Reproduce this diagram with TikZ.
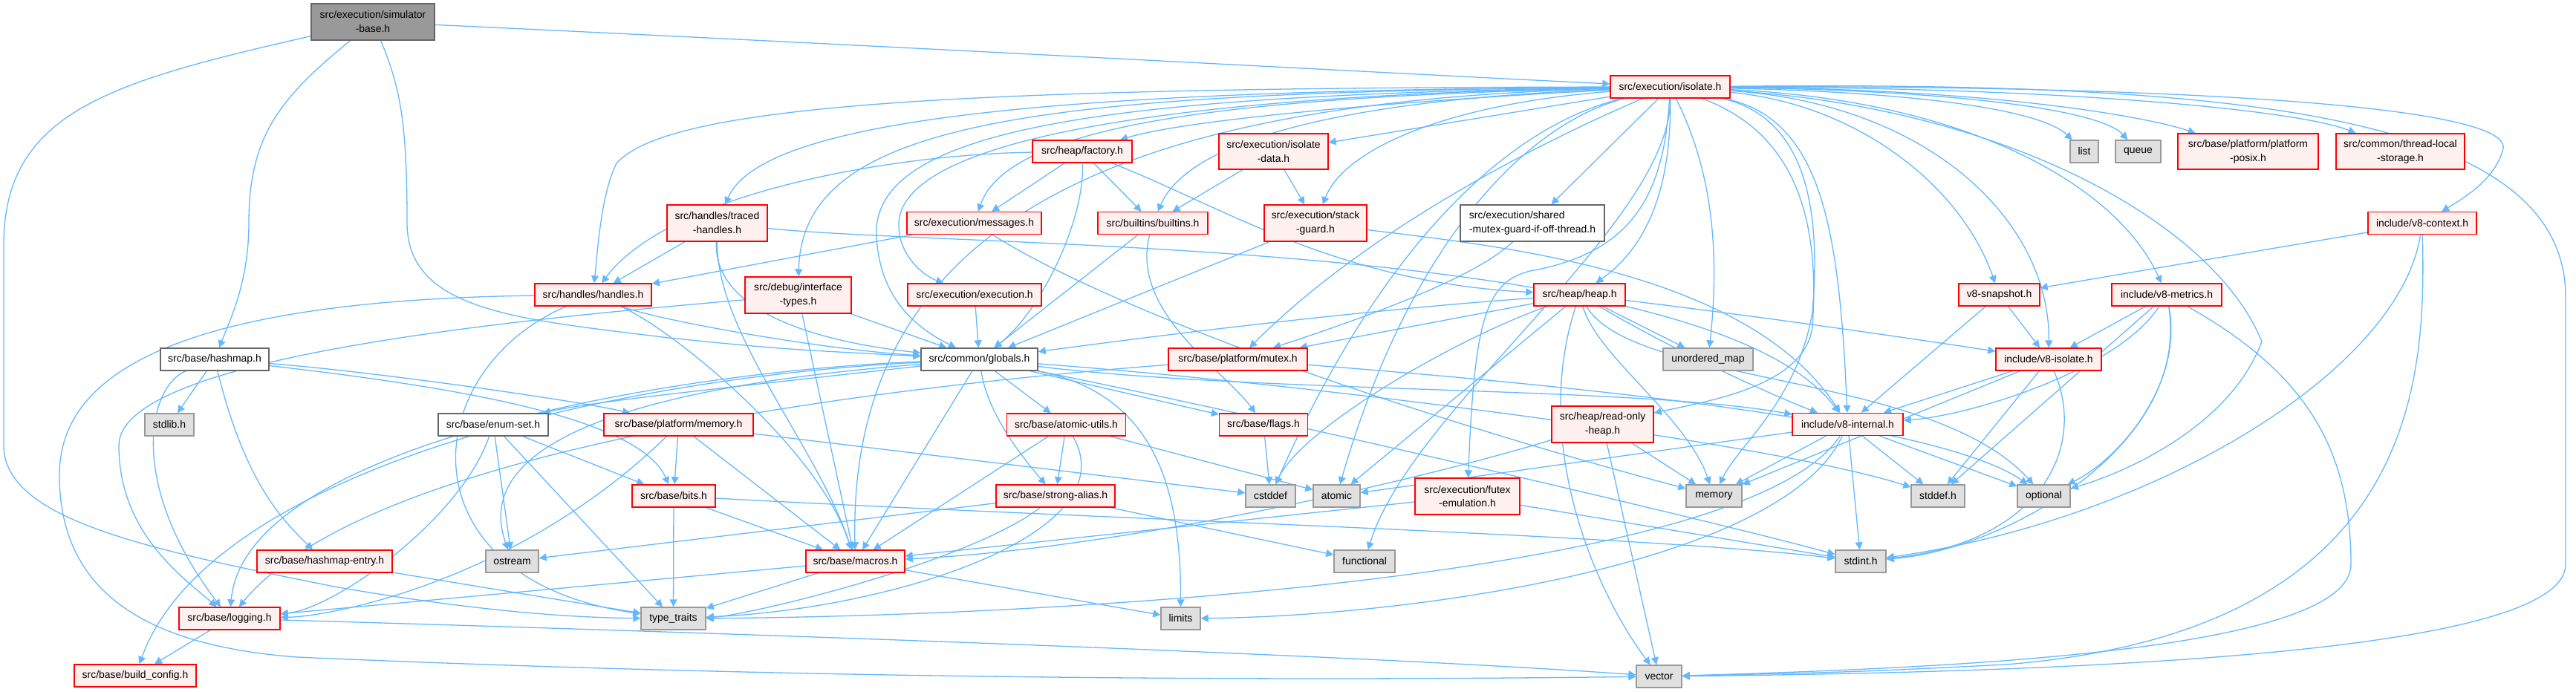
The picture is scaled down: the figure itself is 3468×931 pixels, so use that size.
\documentclass[tikz,border=0pt]{standalone}
\usepackage{fontspec}
\setmainfont{Liberation Sans}
\usetikzlibrary{arrows.meta}
\definecolor{edgeblue}{HTML}{63B8FF}
\definecolor{pinkfill}{HTML}{FFF0F0}
\definecolor{sysfill}{HTML}{E0E0E0}
\definecolor{sysline}{HTML}{999999}
\definecolor{darkline}{HTML}{666666}
\definecolor{rootfill}{HTML}{999999}
\pgfdeclarelayer{bg}
\pgfsetlayers{bg,main}

\begin{document}
\begin{tikzpicture}[
    x=0.3mm, y=-0.3mm,
    nbox/.style  = {draw, inner sep=0pt, line width=1.2pt, align=center,
                    font=\fontsize{11.9}{16.2}\selectfont},
    trunc/.style = {nbox, draw=red, fill=pinkfill},
    sys/.style   = {nbox, draw=sysline, fill=sysfill},
    hdr/.style   = {nbox, draw=darkline, fill=white},
    root/.style  = {nbox, draw=darkline, fill=rootfill},
    sz/.style 2 args = {minimum width=#1*0.3mm, minimum height=#2*0.3mm},
    incl/.style  = {draw=edgeblue, line width=1.1pt,
                    -{Triangle[length=3mm,width=3mm]}},
  ]
  \useasboundingbox (0,0) rectangle (3468,931);
  % top rows
  \node[root, sz={166}{49}]  (sim)      at (502,29.5)    {src/execution/simulator\\-base.h};
  \node[trunc, sz={161}{30}] (iso)      at (2248.5,117)  {src/execution/isolate.h};
  \node[trunc, sz={134}{30}] (fac)      at (1457,204)    {src/heap/factory.h};
  \node[trunc, sz={147}{48}] (isodata)  at (1714.5,204)  {src/execution/isolate\\-data.h};
  \node[sys, sz={38}{30}]    (list)     at (2806,204)    {list};
  \node[sys, sz={61}{30}]    (queue)    at (2878.5,204)  {queue};
  \node[trunc, sz={189}{48}] (posix)    at (3026.5,204)  {src/base/platform/platform\\-posix.h};
  \node[trunc, sz={173}{48}] (tls)      at (3231.5,204)  {src/common/thread-local\\-storage.h};
  \node[trunc, sz={135}{49}] (traced)   at (965.5,300.5) {src/handles/traced\\-handles.h};
  \node[trunc, sz={181}{30}] (msg)      at (1311.5,300.5) {src/execution/messages.h};
  \node[trunc, sz={148}{30}] (builtins) at (1552,300.5)  {src/builtins/builtins.h};
  \node[trunc, sz={138}{49}] (stack)    at (1771,300.5)  {src/execution/stack\\-guard.h};
  \node[hdr, sz={194}{49}, align=left] (shared) at (2063,300.5) {src/execution/shared\\-mutex-guard-if-off-thread.h};
  \node[trunc, sz={146}{30}] (ctx)      at (3261,300.5)  {include/v8-context.h};
  \node[trunc, sz={157}{30}] (handles)  at (798.5,397)   {src/handles/handles.h};
  \node[trunc, sz={143}{49}] (iface)    at (1074.5,397.5) {src/debug/interface\\-types.h};
  \node[trunc, sz={180}{30}] (exec)     at (1312,397)    {src/execution/execution.h};
  \node[trunc, sz={123}{30}] (heap)     at (2126.5,397)  {src/heap/heap.h};
  \node[trunc, sz={109}{30}] (snap)     at (2691.5,397)  {v8-snapshot.h};
  \node[trunc, sz={148}{30}] (metrics)  at (2917,397)    {include/v8-metrics.h};
  % middle rows
  \node[hdr, sz={146}{30}]   (hashmap)  at (289,484)     {src/base/hashmap.h};
  \node[hdr, sz={157}{30}]   (globals)  at (1318.5,484)  {src/common/globals.h};
  \node[trunc, sz={187}{30}] (mutex)    at (1666.5,484)  {src/base/platform/mutex.h};
  \node[sys, sz={121}{30}]   (umap)     at (2299.5,484)  {unordered\_map};
  \node[trunc, sz={142}{30}] (v8iso)    at (2758,484)    {include/v8-isolate.h};
  \node[sys, sz={66}{30}]    (stdlib)   at (228,572)     {stdlib.h};
  \node[hdr, sz={148}{30}]   (enumset)  at (664,572)     {src/base/enum-set.h};
  \node[trunc, sz={201}{30}] (memoryh)  at (913.5,572)   {src/base/platform/memory.h};
  \node[trunc, sz={160}{30}] (atomicu)  at (1435.5,572)  {src/base/atomic-utils.h};
  \node[trunc, sz={119}{30}] (flags)    at (1701,572)    {src/base/flags.h};
  \node[trunc, sz={137}{49}] (rohea)    at (2157.5,571.5) {src/heap/read-only\\-heap.h};
  \node[trunc, sz={149}{30}] (v8int)    at (2487.5,571.5) {include/v8-internal.h};
  \node[trunc, sz={112}{30}] (bits)     at (907,668)     {src/base/bits.h};
  \node[trunc, sz={160}{30}] (strong)   at (1421,668)    {src/base/strong-alias.h};
  \node[sys, sz={67}{30}]    (cstddef)  at (1710.5,668)  {cstddef};
  \node[sys, sz={63}{30}]    (atomic)   at (1799.5,668)  {atomic};
  \node[trunc, sz={141}{49}] (futex)    at (1975.5,668.5) {src/execution/futex\\-emulation.h};
  \node[sys, sz={75}{30}]    (memory)   at (2307.5,668)  {memory};
  \node[sys, sz={72}{30}]    (stddef)   at (2609,668)    {stddef.h};
  \node[sys, sz={71}{30}]    (optional) at (2751.5,668)  {optional};
  % bottom rows
  \node[trunc, sz={182}{30}] (hmentry)  at (437,756)     {src/base/hashmap-entry.h};
  \node[sys, sz={71}{30}]    (ostream)  at (689.5,756)   {ostream};
  \node[trunc, sz={133}{30}] (macros)   at (1151.5,756)  {src/base/macros.h};
  \node[sys, sz={82}{30}]    (functional) at (1837,756)  {functional};
  \node[sys, sz={68}{30}]    (stdint)   at (2505,756)    {stdint.h};
  \node[trunc, sz={136}{30}] (logging)  at (309,833)     {src/base/logging.h};
  \node[sys, sz={87}{30}]    (ttraits)  at (906.5,833)   {type\_traits};
  \node[sys, sz={53}{30}]    (limits)   at (1589.5,833)  {limits};
  \node[trunc, sz={164}{30}] (buildcfg) at (182,910)     {src/base/build\_config.h};
  \node[sys, sz={61}{30}]    (vector)   at (2233.5,911)  {vector};

  \begin{pgfonlayer}{bg}
  % simulator-base.h
  \draw[incl] (sim) .. controls (1200,62) and (1800,95) .. (iso);
  \draw[incl] (sim) .. controls (380,130) and (335,180) .. (335,300) .. controls (335,380) and (310,430) .. (hashmap);
  \draw[incl] (sim) .. controls (540,120) and (548,170) .. (548,300) .. controls (548,420) and (700,430) .. (900,455) .. controls (1050,470) .. (globals);
  \draw[incl] (sim) .. controls (150,110) and (5,150) .. (5,330) -- (5,600) .. controls (5,700) and (200,740) .. (450,790) .. controls (650,825) and (780,832) .. (ttraits);
  % isolate.h, to the left
  \draw[incl] (iso) .. controls (1300,118) and (900,140) .. (830,220) .. controls (810,260) and (805,330) .. (handles);
  \draw[incl] (iso) .. controls (1500,122) and (1030,150) .. (traced);
  \draw[incl] (iso) .. controls (1400,125) and (1080,160) .. (iface);
  \draw[incl] (iso) .. controls (1500,128) and (1170,170) .. (1180,320) .. controls (1185,400) and (1230,440) .. (globals);
  \draw[incl] (iso) .. controls (1500,130) and (1215,200) .. (1210,300) .. controls (1208,340) and (1240,370) .. (exec);
  \draw[incl] (iso) .. controls (1600,135) and (1140,250) .. (macros);
  \draw[incl] (iso) .. controls (1700,130) and (1360,160) .. (msg);
  \draw[incl] (iso) .. controls (1900,135) and (1600,160) .. (fac);
  \draw[incl] (iso) .. controls (1800,135) and (1600,190) .. (builtins);
  \draw[incl] (iso) -- (isodata);
  \draw[incl] (iso) .. controls (1950,140) and (1810,200) .. (stack);
  \draw[incl] (iso) -- (shared);
  \draw[incl] (iso) .. controls (2100,180) and (1850,300) .. (mutex);
  \draw[incl] (iso) .. controls (2030,170) and (1860,330) .. (cstddef);
  \draw[incl] (iso) .. controls (2060,165) and (1900,320) .. (atomic);
  \draw[incl] (iso) .. controls (2240,260) and (2200,340) .. (2060,365) .. controls (2000,380) and (1985,430) .. (futex);
  \draw[incl] (iso) .. controls (2250,300) and (1900,550) .. (functional);
  % isolate.h, downwards and to the right
  \draw[incl] (iso) .. controls (2250,250) and (2220,330) .. (heap);
  \draw[incl] (iso) .. controls (2290,200) and (2320,300) .. (umap);
  \draw[incl] (iso) .. controls (2420,180) and (2450,300) .. (2440,440) .. controls (2430,520) and (2300,540) .. (rohea);
  \draw[incl] (iso) .. controls (2440,160) and (2450,300) .. (2440,420) .. controls (2420,540) and (2340,600) .. (memory);
  \draw[incl] (iso) .. controls (2450,160) and (2476,300) .. (v8int);
  \draw[incl] (iso) .. controls (2500,140) and (2640,250) .. (snap);
  \draw[incl] (iso) .. controls (2600,140) and (2760,300) .. (v8iso);
  \draw[incl] (iso) .. controls (2650,135) and (2850,250) .. (metrics);
  \draw[incl] (iso) .. controls (2600,125) and (2750,150) .. (list);
  \draw[incl] (iso) .. controls (2650,122) and (2830,150) .. (queue);
  \draw[incl] (iso) .. controls (2700,120) and (2900,160) .. (posix);
  \draw[incl] (iso) .. controls (2800,118) and (3100,150) .. (tls);
  \draw[incl] (iso) .. controls (2900,115) and (3380,140) .. (3370,200) .. controls (3360,240) and (3320,265) .. (ctx);
  \draw[incl] (iso) .. controls (2700,145) and (2980,300) .. (3045,460) .. controls (3000,580) and (2850,640) .. (optional);
  \draw[incl] (iso) .. controls (3000,110) and (3454,150) .. (3454,400) -- (3454,760) .. controls (3454,880) and (2800,905) .. (vector);
  % factory.h, isolate-data.h
  \draw[incl] (fac) -- (msg);
  \draw[incl] (fac) -- (builtins);
  \draw[incl] (fac) .. controls (1460,300) and (1400,420) .. (globals);
  \draw[incl] (fac) .. controls (1650,280) and (1800,380) .. (heap);
  \draw[incl] (fac) .. controls (1200,208) and (900,260) .. (handles);
  \draw[incl] (isodata) -- (builtins);
  \draw[incl] (isodata) -- (stack);
  % traced-handles.h, messages.h, builtins.h, stack-guard.h, shared
  \draw[incl] (traced) -- (handles);
  \draw[incl] (traced) .. controls (960,420) and (1100,460) .. (globals);
  \draw[incl] (traced) .. controls (965,450) and (1100,600) .. (macros);
  \draw[incl] (traced) .. controls (1300,335) and (2300,320) .. (v8int);
  \draw[incl] (msg) -- (handles);
  \draw[incl] (msg) .. controls (1500,420) and (1900,560) .. (memory);
  \draw[incl] (builtins) -- (globals);
  \draw[incl] (builtins) .. controls (1520,420) and (1650,500) .. (flags);
  \draw[incl] (stack) -- (globals);
  \draw[incl] (stack) .. controls (2000,330) and (2350,360) .. (v8int);
  \draw[incl] (shared) .. controls (1980,380) and (1800,440) .. (mutex);
  % interface-types.h, execution.h, handles.h
  \draw[incl] (iface) -- (globals);
  \draw[incl] (iface) -- (macros);
  \draw[incl] (iface) .. controls (700,430) and (160,480) .. (160,600) .. controls (160,720) and (250,780) .. (logging);
  \draw[incl] (exec) -- (globals);
  \draw[incl] (handles) .. controls (880,430) and (1100,470) .. (globals);
  \draw[incl] (handles) .. controls (900,440) and (1100,600) .. (macros);
  \draw[incl] (handles) .. controls (560,500) and (540,780) .. (ttraits);
  \draw[incl] (handles) .. controls (200,405) and (80,520) .. (80,640) .. controls (80,800) and (200,870) .. (400,885) .. controls (1200,920) and (1900,915) .. (vector);
  % heap.h
  \draw[incl] (heap) .. controls (1800,420) and (1500,460) .. (globals);
  \draw[incl] (heap) -- (mutex);
  \draw[incl] (heap) -- (atomic);
  \draw[incl] (heap) .. controls (1950,460) and (1750,580) .. (cstddef);
  \draw[incl] (heap) .. controls (2060,600) and (2150,800) .. (vector);
  \draw[incl] (heap) .. controls (2150,480) and (2270,560) .. (memory);
  \draw[incl] (heap) -- (umap);
  \draw[incl] (heap) .. controls (2250,470) and (2380,530) .. (v8int);
  \draw[incl] (heap) .. controls (2400,430) and (2600,460) .. (v8iso);
  \draw[incl] (heap) .. controls (2200,520) and (2600,500) .. (optional);
  % globals.h
  \draw[incl] (globals) .. controls (1000,510) and (620,560) .. (ostream);
  \draw[incl] (globals) .. controls (1700,530) and (2200,520) .. (v8int);
  \draw[incl] (globals) -- (atomicu);
  \draw[incl] (globals) .. controls (800,510) and (280,640) .. (buildcfg);
  \draw[incl] (globals) .. controls (1000,520) and (800,540) .. (enumset);
  \draw[incl] (globals) -- (flags);
  \draw[incl] (globals) .. controls (900,500) and (330,600) .. (logging);
  \draw[incl] (globals) -- (macros);
  \draw[incl] (globals) .. controls (1330,560) and (1380,620) .. (strong);
  \draw[incl] (globals) .. controls (1550,530) and (1590,650) .. (limits);
  \draw[incl] (globals) .. controls (1800,520) and (2400,600) .. (stddef);
  \draw[incl] (globals) .. controls (1700,560) and (2300,700) .. (stdint);
  % mutex.h, hashmap.h, enum-set.h, memory.h
  \draw[incl] (mutex) .. controls (1200,520) and (500,600) .. (logging);
  \draw[incl] (mutex) .. controls (2000,510) and (2600,560) .. (optional);
  \draw[incl] (hashmap) -- (stdlib);
  \draw[incl] (hashmap) .. controls (330,650) and (380,700) .. (hmentry);
  \draw[incl] (hashmap) .. controls (200,520) and (170,650) .. (logging);
  \draw[incl] (hashmap) .. controls (600,520) and (860,560) .. (bits);
  \draw[incl] (hashmap) .. controls (500,500) and (780,540) .. (memoryh);
  \draw[incl] (enumset) -- (bits);
  \draw[incl] (enumset) -- (ostream);
  \draw[incl] (enumset) -- (ttraits);
  \draw[incl] (enumset) .. controls (620,700) and (450,820) .. (logging);
  \draw[incl] (memoryh) -- (bits);
  \draw[incl] (memoryh) -- (macros);
  \draw[incl] (memoryh) -- (cstddef);
  \draw[incl] (memoryh) .. controls (700,780) and (450,830) .. (logging);
  % atomic-utils.h, flags.h, read-only-heap.h
  \draw[incl] (atomicu) -- (strong);
  \draw[incl] (atomicu) -- (macros);
  \draw[incl] (atomicu) -- (atomic);
  \draw[incl] (atomicu) .. controls (1520,720) and (1200,820) .. (ttraits);
  \draw[incl] (flags) -- (cstddef);
  \draw[incl] (rohea) -- (memory);
  \draw[incl] (rohea) -- (vector);
  \draw[incl] (rohea) .. controls (1900,650) and (1500,740) .. (macros);
  % v8 headers
  \draw[incl] (v8int) -- (atomic);
  \draw[incl] (v8int) -- (memory);
  \draw[incl] (v8int) -- (stddef);
  \draw[incl] (v8int) -- (optional);
  \draw[incl] (v8int) -- (stdint);
  \draw[incl] (v8int) .. controls (2350,780) and (1400,830) .. (ttraits);
  \draw[incl] (v8int) .. controls (2400,760) and (1900,830) .. (limits);
  \draw[incl] (v8iso) -- (v8int);
  \draw[incl] (v8iso) -- (memory);
  \draw[incl] (v8iso) -- (stddef);
  \draw[incl] (v8iso) .. controls (2810,600) and (2750,730) .. (stdint);
  \draw[incl] (snap) -- (v8int);
  \draw[incl] (snap) -- (v8iso);
  \draw[incl] (metrics) -- (v8iso);
  \draw[incl] (metrics) .. controls (2850,500) and (2650,560) .. (v8int);
  \draw[incl] (metrics) -- (stddef);
  \draw[incl] (metrics) .. controls (2940,520) and (2850,620) .. (optional);
  \draw[incl] (metrics) .. controls (2950,600) and (2700,740) .. (stdint);
  \draw[incl] (metrics) .. controls (3100,500) and (3165,600) .. (3165,760) .. controls (3165,880) and (2600,900) .. (vector);
  \draw[incl] (ctx) -- (snap);
  \draw[incl] (ctx) .. controls (3230,500) and (2900,700) .. (stdint);
  \draw[incl] (ctx) .. controls (3265,500) and (3265,850) .. (2700,895) .. controls (2500,905) .. (vector);
  % strong-alias.h, bits.h, macros.h, futex, hashmap-entry.h, logging.h
  \draw[incl] (strong) .. controls (1300,760) and (1000,830) .. (ttraits);
  \draw[incl] (strong) -- (ostream);
  \draw[incl] (strong) -- (functional);
  \draw[incl] (bits) -- (ttraits);
  \draw[incl] (bits) -- (macros);
  \draw[incl] (bits) .. controls (1500,700) and (2200,720) .. (stdint);
  \draw[incl] (macros) -- (logging);
  \draw[incl] (macros) -- (ttraits);
  \draw[incl] (macros) -- (limits);
  \draw[incl] (futex) -- (macros);
  \draw[incl] (futex) -- (stdint);
  \draw[incl] (hmentry) -- (ttraits);
  \draw[incl] (logging) -- (buildcfg);
  \draw[incl] (logging) .. controls (900,850) and (1800,880) .. (vector);
  \end{pgfonlayer}
\end{tikzpicture}
\end{document}
